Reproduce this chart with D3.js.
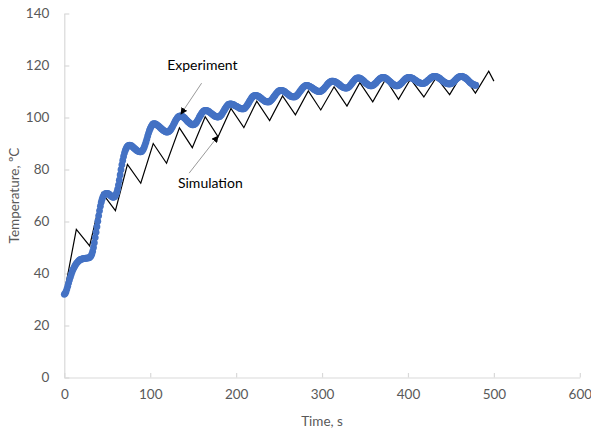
<!DOCTYPE html>
<html>
<head>
<meta charset="utf-8">
<script src="https://cdn.jsdelivr.net/npm/d3@7"></script>
<style>
  html, body { margin: 0; padding: 0; background: #fff; }
  svg { display: block; }
  text { font-family: Lato, "Open Sans", sans-serif; }
</style>
</head>
<body>
<svg id="chart" width="591" height="430"></svg>
<script>
// Axis ticks
const xTicks = [0, 100, 200, 300, 400, 500, 600];
const yTicks = [0, 20, 40, 60, 80, 100, 120, 140];

// Simulation: sawtooth turning points (time in s, temperature in °C)
const simTime = [0, 14, 29.5, 44, 59.5, 73.5, 89, 103.5, 119, 134, 149, 164, 179, 194, 209, 224, 239, 254, 269,
  284, 298.5, 314, 329, 344, 359, 374, 389, 403, 418.5, 433, 448.5, 463, 478.5, 494, 500];
const simTemp = [32.5, 57, 50.6, 71, 64.2, 82, 74.7, 90, 82.4, 96, 88.4, 100.3, 92.6, 103.5, 96.1, 106.3, 98.8, 108.3, 101,
  110.2, 102.9, 111.8, 104.4, 113.4, 106, 114.7, 107, 114.8, 107.9, 115.4, 108.8, 116.8, 109.4, 117.8, 114];

// Experiment: logged once per second from t = 0 s
const expInterval = 1;
const expTemp = [
  32.0, 32.3, 33.0, 34.0, 35.1, 36.3, 37.5, 38.6, 39.6, 40.6,
  41.4, 42.1, 42.7, 43.3, 43.8, 44.2, 44.6, 44.9, 45.2, 45.4,
  45.5, 45.6, 45.7, 45.8, 45.8, 45.9, 45.9, 46.0, 46.0, 46.1,
  46.3, 46.7, 47.4, 48.5, 50.0, 51.8, 53.8, 55.9, 58.0, 60.1,
  62.2, 64.1, 65.9, 67.4, 68.6, 69.5, 70.1, 70.5, 70.7, 70.8,
  70.8, 70.7, 70.5, 70.2, 69.9, 69.6, 69.4, 69.3, 69.4, 69.7,
  70.3, 71.1, 72.3, 74.0, 75.9, 77.9, 79.9, 81.8, 83.5, 85.0,
  86.3, 87.3, 88.1, 88.7, 89.1, 89.3, 89.4, 89.3, 89.2, 88.9,
  88.6, 88.3, 88.0, 87.7, 87.4, 87.2, 87.0, 86.9, 86.8, 86.8,
  86.9, 87.3, 87.8, 88.6, 89.5, 90.5, 91.6, 92.8, 93.9, 94.9,
  95.7, 96.4, 97.0, 97.4, 97.6, 97.6, 97.5, 97.3, 97.1, 96.9,
  96.6, 96.3, 96.0, 95.7, 95.4, 95.1, 94.9, 94.7, 94.5, 94.4,
  94.4, 94.5, 94.7, 95.0, 95.4, 96.0, 96.5, 97.2, 97.8, 98.5,
  99.1, 99.6, 100.0, 100.3, 100.5, 100.6, 100.6, 100.5, 100.3, 100.0,
  99.8, 99.4, 99.1, 98.7, 98.4, 98.1, 97.8, 97.5, 97.4, 97.2,
  97.2, 97.3, 97.5, 97.8, 98.2, 98.8, 99.3, 100.0, 100.6, 101.1,
  101.7, 102.1, 102.4, 102.6, 102.7, 102.7, 102.6, 102.5, 102.3, 102.1,
  101.8, 101.6, 101.3, 101.1, 100.8, 100.6, 100.4, 100.3, 100.2, 100.2,
  100.3, 100.4, 100.8, 101.1, 101.6, 102.2, 102.7, 103.3, 103.8, 104.3,
  104.7, 105.0, 105.1, 105.2, 105.2, 105.1, 105.0, 104.9, 104.7, 104.5,
  104.4, 104.2, 104.0, 103.8, 103.6, 103.5, 103.4, 103.3, 103.3, 103.4,
  103.6, 103.9, 104.3, 104.8, 105.3, 105.9, 106.5, 107.0, 107.5, 107.9,
  108.2, 108.4, 108.5, 108.5, 108.4, 108.3, 108.1, 107.9, 107.6, 107.4,
  107.1, 106.9, 106.6, 106.4, 106.2, 106.1, 106.0, 106.0, 106.0, 106.2,
  106.4, 106.7, 107.1, 107.5, 108.0, 108.4, 108.9, 109.3, 109.7, 110.0,
  110.2, 110.4, 110.4, 110.4, 110.3, 110.2, 110.0, 109.8, 109.5, 109.3,
  109.0, 108.8, 108.5, 108.3, 108.1, 108.0, 107.9, 107.9, 107.9, 108.1,
  108.3, 108.6, 109.0, 109.4, 109.9, 110.3, 110.8, 111.2, 111.6, 111.9,
  112.1, 112.3, 112.3, 112.3, 112.2, 112.1, 111.9, 111.7, 111.5, 111.3,
  111.0, 110.8, 110.6, 110.4, 110.2, 110.1, 110.0, 110.0, 110.0, 110.2,
  110.4, 110.7, 111.0, 111.4, 111.8, 112.2, 112.6, 113.0, 113.3, 113.6,
  113.8, 114.0, 114.0, 114.0, 113.9, 113.8, 113.6, 113.4, 113.2, 112.9,
  112.7, 112.4, 112.1, 111.9, 111.7, 111.5, 111.4, 111.3, 111.3, 111.3,
  111.5, 111.7, 112.0, 112.4, 112.8, 113.3, 113.7, 114.1, 114.5, 114.8,
  115.0, 115.2, 115.2, 115.2, 115.1, 114.9, 114.7, 114.5, 114.2, 113.9,
  113.5, 113.2, 113.0, 112.7, 112.5, 112.3, 112.2, 112.2, 112.2, 112.4,
  112.5, 112.8, 113.1, 113.4, 113.8, 114.2, 114.5, 114.8, 115.0, 115.2,
  115.4, 115.4, 115.4, 115.3, 115.1, 114.9, 114.7, 114.4, 114.1, 113.8,
  113.5, 113.2, 112.9, 112.7, 112.5, 112.3, 112.2, 112.2, 112.2, 112.4,
  112.5, 112.8, 113.1, 113.4, 113.8, 114.2, 114.5, 114.8, 115.0, 115.2,
  115.4, 115.4, 115.4, 115.3, 115.2, 115.1, 114.9, 114.7, 114.5, 114.3,
  114.0, 113.8, 113.6, 113.4, 113.3, 113.2, 113.1, 113.1, 113.1, 113.2,
  113.4, 113.6, 113.9, 114.2, 114.5, 114.7, 115.0, 115.3, 115.5, 115.7,
  115.8, 115.8, 115.8, 115.7, 115.6, 115.4, 115.2, 115.0, 114.7, 114.5,
  114.2, 113.9, 113.7, 113.5, 113.3, 113.1, 113.0, 112.9, 112.9, 112.9,
  113.0, 113.2, 113.4, 113.7, 114.0, 114.4, 114.7, 115.0, 115.3, 115.5,
  115.7, 115.8, 115.8, 115.8, 115.7, 115.5, 115.4, 115.1, 114.9, 114.6,
  114.3, 113.9, 113.6, 113.3, 113.1, 112.8, 112.7, 112.5, 112.4, 112.4
];

// Callout labels: text anchor point and arrow (tail -> head), in data units
const callouts = [
  { label: "Experiment", tx: 160.7, ty: 119.6, x1: 159.8, y1: 113.2, x2: 135.7, y2: 101.3 },
  { label: "Simulation", tx: 170.0, ty: 74.2, x1: 145.3, y1: 78.6, x2: 179.1, y2: 92.9 }
];

const svg = d3.select("#chart");
const plot = { left: 64.3, right: 579.8, top: 13.5, bottom: 377.5 };

const x = d3.scaleLinear().domain([0, 600]).range([plot.left, plot.right]);
const y = d3.scaleLinear().domain([0, 140]).range([plot.bottom, plot.top]);

const axisColor = "#d9d9d9";
const labelColor = "#595959";

// X axis: ticks point into the plot
const gx = svg.append("g").attr("transform", `translate(0,${plot.bottom})`)
  .call(d3.axisBottom(x).tickValues(xTicks).tickSizeInner(-4.5).tickSizeOuter(0).tickPadding(12));
gx.select(".domain").attr("stroke", axisColor).attr("stroke-width", 1.2);
gx.selectAll(".tick line").attr("stroke", axisColor).attr("stroke-width", 1.2);
gx.selectAll(".tick text").attr("fill", labelColor).attr("font-size", 13.5)
  .attr("font-family", "Lato, 'Open Sans', sans-serif");

// Y axis
const gy = svg.append("g").attr("transform", `translate(${plot.left},0)`)
  .call(d3.axisLeft(y).tickValues(yTicks).tickSizeInner(-5).tickSizeOuter(0).tickPadding(15));
gy.select(".domain").attr("stroke", axisColor).attr("stroke-width", 1.2);
gy.selectAll(".tick line").attr("stroke", axisColor).attr("stroke-width", 1.2);
gy.selectAll(".tick text").attr("fill", labelColor).attr("font-size", 13.5)
  .attr("font-family", "Lato, 'Open Sans', sans-serif");

// Axis titles
svg.append("text")
  .attr("x", (plot.left + plot.right) / 2).attr("y", 425.5)
  .attr("text-anchor", "middle").attr("fill", labelColor).attr("font-size", 13.5)
  .text("Time, s");
svg.append("text")
  .attr("transform", `translate(18.5,${(plot.top + plot.bottom) / 2}) rotate(-90)`)
  .attr("text-anchor", "middle").attr("fill", labelColor).attr("font-size", 13.5)
  .text("Temperature, ºC");

// Simulation line
const simData = simTime.map((t, i) => ({ t, v: simTemp[i] }));
svg.append("path")
  .datum(simData)
  .attr("fill", "none").attr("stroke", "#000").attr("stroke-width", 1.2)
  .attr("stroke-linejoin", "miter")
  .attr("d", d3.line().x(d => x(d.t)).y(d => y(d.v)));

// Experimental points
const expData = expTemp.map((v, i) => ({ t: i * expInterval, v }));
svg.append("g").selectAll("circle")
  .data(expData).join("circle")
  .attr("cx", d => x(d.t)).attr("cy", d => y(d.v)).attr("r", 3.4)
  .attr("fill", "#4472c4");

// Callouts
svg.append("defs").append("marker")
  .attr("id", "arrow").attr("viewBox", "0 0 10 10")
  .attr("refX", 9).attr("refY", 5)
  .attr("markerWidth", 7).attr("markerHeight", 7)
  .attr("markerUnits", "userSpaceOnUse")
  .attr("orient", "auto")
  .append("path").attr("d", "M0,0 L10,5 L0,10 z").attr("fill", "#000");

callouts.forEach(c => {
  svg.append("line")
    .attr("x1", x(c.x1)).attr("y1", y(c.y1))
    .attr("x2", x(c.x2)).attr("y2", y(c.y2))
    .attr("stroke", "#7f7f7f").attr("stroke-width", 0.8)
    .attr("marker-end", "url(#arrow)");
  svg.append("text")
    .attr("x", x(c.tx)).attr("y", y(c.ty))
    .attr("text-anchor", "middle").attr("dominant-baseline", "middle")
    .attr("fill", "#000").attr("font-size", 14)
    .text(c.label);
});
</script>
</body>
</html>
